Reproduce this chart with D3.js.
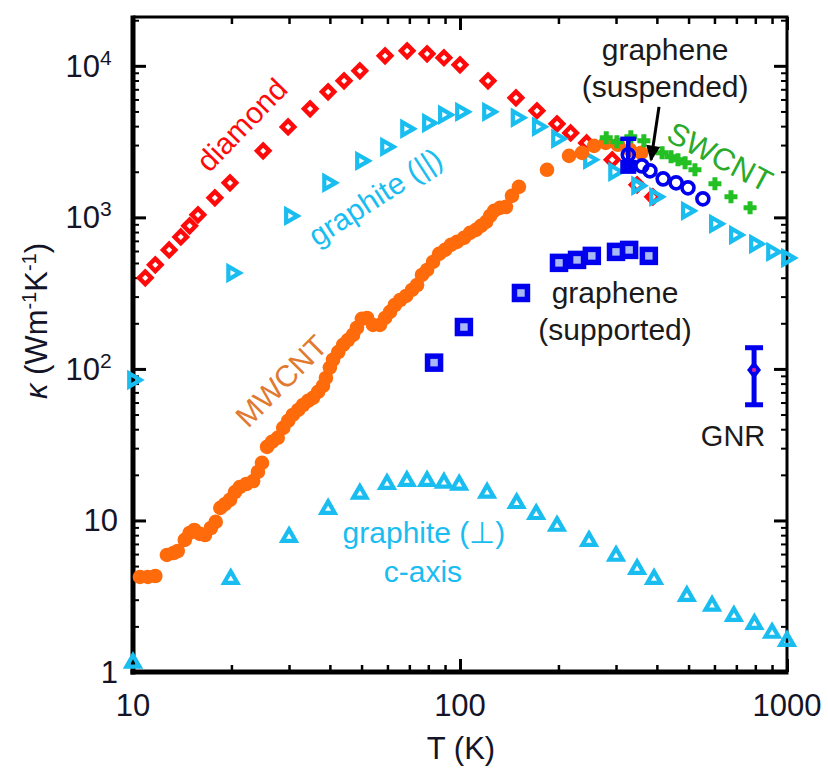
<!DOCTYPE html>
<html><head><meta charset="utf-8">
<script src="https://cdn.jsdelivr.net/npm/d3@7"></script>
<style>body{margin:0;background:#fff;} text{font-family:"Liberation Sans",Arial,sans-serif;}</style>
</head><body><svg id="c" width="828" height="772"></svg>
<script>
// ---------- data ----------
const diamondT = [10.9,11.7,12.9,14.0,14.9,15.8,17.8,19.8,25.0,29.8,34.8,39.5,44.2,49.4,59.0,68.9,79.3,89.3,100,121.8,148.3,171.9,198,218,244,292,348,389];
const diamondK = [399,486,610,743,879,1039,1345,1690,2748,3955,5200,6733,7960,9270,11640,12560,12000,11300,10150,7960,6150,5050,4140,3610,3100,2400,1640,1366];

const graphParT = [10,20.1,30.2,39.5,49.8,59.4,68.4,79.8,89.3,100.7,121.8,149,173,198,248,296,348,395,494,602,693,798,900,1000];
const graphParK = [84.6,430,1023,1690,2360,2920,3840,4200,4750,4970,4970,4540,3960,3300,2400,1996,1615,1366,1104,906,766,668,592,540];

const graphPerpT = [10,19.9,30.0,39.5,49.4,59.8,68.8,79.3,89.3,99.4,121,149,171,198,248,300,348,392,494,590,688,795,900,1000];
const graphPerpK = [1.15,4.11,7.78,11.9,15.0,17.4,18.2,18.2,17.7,17.2,15.2,13.0,11.0,9.2,7.32,5.83,4.78,4.11,3.17,2.73,2.34,2.07,1.81,1.60];

const mwcntT = [10.5,11.1,11.7,12.7,13.3,13.7,14.4,14.9,15.4,16.0,16.6,17.3,17.9,18.5,19.1,19.8,20.5,21.2,22.2,23.3,24.1,24.8,25.7,26.6,27.7,28.8,29.8,30.8,32.0,33.1,34.3,35.5,36.8,38.1,38.9,40.0,40.9,42.4,43.9,45.4,47.1,48.4,50.1,52.0,54.2,56.9,59.0,61.1,63.2,65.6,68.4,71.3,73.9,76.5,79.3,82.7,86.3,90.0,93.8,97.9,102.8,107.3,111.9,115.9,120.2,123.6,127.1,132.5,138.2,144.2,151.4,184.5,215.5,236,257,279,304,331,358];
const mwcntK = [4.24,4.24,4.30,5.92,6.10,6.29,7.44,8.27,8.65,8.15,8.02,8.92,9.78,12.1,12.8,13.7,15.4,16.6,17.4,18.2,20.9,24.0,30.6,33.0,35.1,40.8,45.4,49.7,53.6,57.8,61.5,64.4,70.5,77.3,87.2,102,115,129,144,155,168,187,214,217,195,195,217,238,264,285,303,332,358,417,450,508,574,610,658,689,732,790,827,879,934,1023,1104,1156,1173,1387,1590,2060,2547,2666,2965,3103,3013,2790,2666];

const swcntT = [280,302,333,365,415,442,464,488,523,602,674,771];
const swcntK = [3350,3150,3400,3200,2666,2510,2398,2290,2060,1664,1366,1156];

const suspT = [327,360,381,418,458,498,553];
const suspK = [2586,2187,2028,1795,1690,1566,1325];
const suspBarT = [327], suspBarLow = [1967], suspBarHigh = [3300], suspBarMid = [2154];

const suppT = [83.3,102.8,153.6,200.8,228,253,300,329,378];
const suppK = [110,189,317,501,524,557,592,610,557];

const gnrT = [793], gnrK = [98.5], gnrLow = [58], gnrHigh = [138];

const xTickVals = [10,100,1000];
const xTickLabels = ["10","100","1000"];
const yTickVals = [1,10,100,1000,10000];
const yTickBase = ["1","10","10","10","10"];
const yTickExp = ["","","2","3","4"];

// ---------- setup ----------
const svg = d3.select("#c");
const L=133,R=787,T=17,B=672;
const x = d3.scaleLog().domain([10,1000]).range([L,R]);
const y = d3.scaleLog().domain([1,21000]).range([B,T]);

const minorX = [];
[10,100].forEach(d=>{for(let i=2;i<=9;i++) minorX.push(d*i);});
const minorY = [];
[1,10,100,1000,10000].forEach(d=>{for(let i=2;i<=9;i++){ if(d*i<=21000) minorY.push(d*i);} });

function ax(gen, tx, ty, vals, size, w){
  const g = svg.append("g").attr("transform",`translate(${tx},${ty})`)
    .call(gen.tickValues(vals).tickSize(size).tickSizeOuter(0).tickFormat(""));
  g.select(".domain").remove();
  g.selectAll(".tick line").attr("stroke","#000").attr("stroke-width",w);
}
ax(d3.axisLeft(y),L,0,minorY,-6,2);
ax(d3.axisLeft(y),L,0,yTickVals,-13,3);
ax(d3.axisRight(y),R,0,minorY,-6,2);
ax(d3.axisRight(y),R,0,yTickVals,-13,3);
ax(d3.axisBottom(x),0,B,minorX,-7,2.5);
ax(d3.axisBottom(x),0,B,xTickVals,-13,3);
ax(d3.axisTop(x),0,T,minorX,-7,2.5);
ax(d3.axisTop(x),0,T,xTickVals,-13,3);

// frame
svg.append("line").attr("x1",L).attr("x2",L).attr("y1",T-1.5).attr("y2",B+2.5).attr("stroke","#000").attr("stroke-width",5);
svg.append("line").attr("x1",L-2.5).attr("x2",R+1.5).attr("y1",B).attr("y2",B).attr("stroke","#000").attr("stroke-width",5);
svg.append("line").attr("x1",L).attr("x2",R+1.5).attr("y1",T).attr("y2",T).attr("stroke","#000").attr("stroke-width",3);
svg.append("line").attr("x1",R).attr("x2",R).attr("y1",T).attr("y2",B).attr("stroke","#000").attr("stroke-width",3);

// tick labels
const tc = "#141428";
yTickVals.forEach((v,i)=>{
  const t = svg.append("text").attr("x",118).attr("y",y(v)+11).attr("text-anchor","end")
    .attr("font-size",31).attr("fill",tc);
  if(yTickExp[i]){
    t.attr("x",100);
    t.text(yTickBase[i]);
    svg.append("text").attr("x",100).attr("y",y(v)-1).attr("font-size",21).attr("fill",tc).text(yTickExp[i]);
  } else t.text(yTickBase[i]);
});
xTickVals.forEach((v,i)=>{
  svg.append("text").attr("x",x(v)).attr("y",716).attr("text-anchor","middle")
    .attr("font-size",31).attr("fill",tc).text(xTickLabels[i]);
});
svg.append("text").attr("x",461).attr("y",759).attr("text-anchor","middle").attr("font-size",31).attr("fill",tc).text("T (K)");
const yl = svg.append("text").attr("transform","translate(47,321) rotate(-90)").attr("text-anchor","middle").attr("font-size",31).attr("fill",tc);
yl.append("tspan").attr("font-style","italic").text("κ");
yl.append("tspan").text(" (Wm");
yl.append("tspan").attr("font-size",20).attr("dy",-11).text("-1");
yl.append("tspan").attr("dy",11).text("K");
yl.append("tspan").attr("font-size",20).attr("dy",-11).text("-1");
yl.append("tspan").attr("dy",11).text(")");

// ---------- markers ----------
const RED="#ff0a0a", CYAN="#19bdf0", ORANGE="#ff6a0a", GREEN="#22c022", BLUE="#0000ee";
const zip=(a,b)=>a.map((v,i)=>[v,b[i]]);

const Rt=7.6;
const triUp = `M0,${-Rt} L${Rt*0.866},${Rt/2} L${-Rt*0.866},${Rt/2} Z`;
const triRight = `M${Rt},0 L${-Rt/2},${Rt*0.866} L${-Rt/2},${-Rt*0.866} Z`;
// graphite perpendicular (up triangles)
svg.append("g").selectAll("path").data(zip(graphPerpT,graphPerpK)).join("path")
  .attr("d",triUp).attr("transform",d=>`translate(${x(d[0])},${y(d[1])})`)
  .attr("fill","none").attr("stroke",CYAN).attr("stroke-width",4.2);

// diamond
const Rd=6.2;
svg.append("g").selectAll("path").data(zip(diamondT,diamondK)).join("path")
  .attr("d",`M0,${-Rd} L${Rd},0 L0,${Rd} L${-Rd},0 Z`).attr("transform",d=>`translate(${x(d[0])},${y(d[1])})`)
  .attr("fill","none").attr("stroke",RED).attr("stroke-width",4.4);

// graphite parallel (right triangles)
svg.append("g").selectAll("path").data(zip(graphParT,graphParK)).join("path")
  .attr("d",triRight).attr("transform",d=>`translate(${x(d[0])},${y(d[1])})`)
  .attr("fill","none").attr("stroke",CYAN).attr("stroke-width",4.2);

// MWCNT
svg.append("g").selectAll("circle").data(zip(mwcntT,mwcntK)).join("circle")
  .attr("cx",d=>x(d[0])).attr("cy",d=>y(d[1])).attr("r",7.3).attr("fill",ORANGE);

// SWCNT plus
svg.append("g").selectAll("path").data(zip(swcntT,swcntK)).join("path")
  .attr("d","M-6.5,0 H6.5 M0,-6.5 V6.5").attr("transform",d=>`translate(${x(d[0])},${y(d[1])})`)
  .attr("stroke",GREEN).attr("stroke-width",5);

// graphene supported squares
svg.append("g").selectAll("rect").data(zip(suppT,suppK)).join("rect")
  .attr("x",d=>x(d[0])-6.5).attr("y",d=>y(d[1])-6.5).attr("width",13).attr("height",13)
  .attr("fill","#a8b8f4").attr("stroke",BLUE).attr("stroke-width",5.5);

// suspended error bar + square
suspBarT.forEach((t,i)=>{
  const cx=x(t);
  svg.append("line").attr("x1",cx).attr("x2",cx).attr("y1",y(suspBarHigh[i])).attr("y2",y(suspBarLow[i])).attr("stroke",BLUE).attr("stroke-width",4.5);
  svg.append("line").attr("x1",cx-8).attr("x2",cx+8).attr("y1",y(suspBarHigh[i])).attr("y2",y(suspBarHigh[i])).attr("stroke",BLUE).attr("stroke-width",4.5);
  svg.append("rect").attr("x",cx-8).attr("y",y(suspBarMid[i])-7).attr("width",16).attr("height",14).attr("fill",BLUE);
});
// suspended circles
svg.append("g").selectAll("circle").data(zip(suspT,suspK)).join("circle")
  .attr("cx",d=>x(d[0])).attr("cy",d=>y(d[1])).attr("r",6).attr("fill","none").attr("stroke",BLUE).attr("stroke-width",3.6);

// GNR
gnrT.forEach((t,i)=>{
  const cx=x(t);
  svg.append("line").attr("x1",cx).attr("x2",cx).attr("y1",y(gnrHigh[i])).attr("y2",y(gnrLow[i])).attr("stroke",BLUE).attr("stroke-width",5);
  [gnrHigh[i],gnrLow[i]].forEach(v=>svg.append("line").attr("x1",cx-9).attr("x2",cx+9).attr("y1",y(v)).attr("y2",y(v)).attr("stroke",BLUE).attr("stroke-width",5));
  const cy=y(gnrK[i]);
  svg.append("path").attr("d",`M${cx},${cy-9} L${cx+7},${cy} L${cx},${cy+9} L${cx-7},${cy} Z`).attr("fill",BLUE);
  svg.append("circle").attr("cx",cx).attr("cy",cy).attr("r",2.2).attr("fill","#d020a0");
});

// arrow
const a0=[x(406),y(5360)], a1=[x(384),y(2400)];
svg.append("line").attr("x1",a0[0]).attr("y1",a0[1]).attr("x2",a1[0]).attr("y2",a1[1]).attr("stroke","#000").attr("stroke-width",3);
{
  const ang=Math.atan2(a1[1]-a0[1],a1[0]-a0[0]);
  const hl=14, hw=7;
  const bx=a1[0]-hl*Math.cos(ang), by=a1[1]-hl*Math.sin(ang);
  const px=-Math.sin(ang), py=Math.cos(ang);
  svg.append("path").attr("d",`M${a1[0]+2*Math.cos(ang)},${a1[1]+2*Math.sin(ang)} L${bx+hw*px},${by+hw*py} L${bx-hw*px},${by-hw*py} Z`).attr("fill","#000");
}

// ---------- labels ----------
function lab(t,k,txt,col,rot,size){
  svg.append("text").attr("transform",`translate(${x(t)},${y(k)}) rotate(${rot})`)
    .attr("text-anchor","middle").attr("dy","0.35em").attr("font-size",size).attr("fill",col).text(txt);
}
lab(21.5,4080,"diamond",RED,-46,30);
lab(55,1366,"graphite (||)",CYAN,-33,30);
lab(28.4,83.3,"MWCNT","#e07a30",-45,30);
lab(624,2508,"SWCNT","#2aaa2a",28,31);
function htext(t,k,txt,col,size){
  svg.append("text").attr("x",x(t)).attr("y",y(k)).attr("text-anchor","middle").attr("font-size",size).attr("fill",col).text(txt);
}
htext(77.6,7.10,"graphite (⊥)",CYAN,30);
htext(77.0,3.93,"c-axis",CYAN,30);
htext(424,10960,"graphene","#1a1a1a",30);
htext(424,6240,"(suspended)","#1a1a1a",30);
htext(298,273,"graphene","#1a1a1a",30);
htext(298,155,"(supported)","#1a1a1a",30);
htext(684,31.0,"GNR","#1a1a1a",29);
</script></body></html>
